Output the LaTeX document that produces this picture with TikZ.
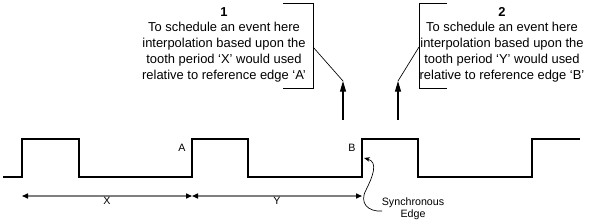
\documentclass[tikz,border=0pt]{standalone}
\usepackage{fontspec}
\setmainfont{Liberation Sans}
\usetikzlibrary{arrows.meta, calc, positioning}

\begin{document}
\begin{tikzpicture}[
  x=0.75pt, y=-0.75pt,
  wave/.style={line width=1.3pt, line join=miter},
  dim/.style={{Triangle[length=4.5pt, width=3.8pt, color=black]}-{Triangle[length=4.5pt, width=3.8pt, color=black]},
              line width=1pt, gray},
  note/.style={align=center, inner sep=0pt, font=\fontsize{9.7}{11.8}\selectfont},
  brk/.style={line width=0.6pt},
  lead/.style={line width=0.5pt},
  uparr/.style={-{Triangle[length=8pt, width=4.5pt]}, line width=0.8pt},
  lbl/.style={inner sep=0pt, font=\fontsize{8}{9}\selectfont},
  syncarr/.style={-{Stealth[length=4.5pt, width=3.5pt]}, line width=0.5pt},
]
  \useasboundingbox (0,0) rectangle (598,224);

  %% ── Waveform ──
  \coordinate (r1) at (22,177);
  \coordinate (rA) at (192,177);
  \coordinate (rB) at (362,177);
  \draw[wave] (3,177) -- (r1) -- ++(0,-38) -- (79,139) -- (79,177)
    -- (rA) -- ++(0,-38) -- (248,139) -- (248,177)
    -- (rB) -- ++(0,-38) -- (418,139) -- (418,177)
    -- (532,177) -- (532,139) -- (580,139);

  \node[lbl] (labA) at (182,148) {A};
  \node[lbl] (labB) at (352,148) {B};

  %% ── Tooth periods ──
  \coordinate (dX0) at (22,196);
  \coordinate (dX1) at (192,196);
  \coordinate (dY1) at (362,196);
  \draw[dim] (dX0) -- (dX1);
  \draw[dim] (dX1) -- (dY1);
  \node[lbl, anchor=north] (labX) at ($(dX0)!0.5!(dX1)+(0,1)$) {X};
  \node[lbl, anchor=north] (labY) at ($(dX1)!0.5!(dY1)+(0,1)$) {Y};

  %% ══════════════════════════════════════
  %% Callout 1
  \node[note] (note1) at (224,44.5)
    {\textbf{1}\\To schedule an event here\\interpolation based upon the\\
     tooth period ‘X’ would used\\relative to reference edge ‘A’};
  \draw[brk] (283,3) -- (313,3) -- (313,88) -- (283,88);
  \coordinate (b1) at (313,47);
  \coordinate (t1) at (343,81);
  \coordinate (s1) at (343,120);
  \draw[lead] (b1) -- (t1);
  \draw[uparr] (s1) -- (t1);

  %% Callout 2
  \node[note] (note2) at (502,44.5)
    {\textbf{2}\\To schedule an event here\\interpolation based upon the\\
     tooth period ‘Y’ would used\\relative to reference edge ‘B’};
  \draw[brk] (447,3) -- (419,3) -- (419,88) -- (447,88);
  \coordinate (b2) at (419,47);
  \coordinate (t2) at (398,81);
  \coordinate (s2) at (398,120);
  \draw[lead] (b2) -- (t2);
  \draw[uparr] (s2) -- (t2);

  %% ── Synchronous edge ──
  \node[lbl, align=center] (sync) at (413,209) {Synchronous\\Edge};
  \coordinate (syncs) at (382,211);
  \coordinate (synce) at (364,158);
  \draw[syncarr] (syncs) .. controls (368,212) and (359,203) .. (366,190)
    .. controls (372,178) and (379,162) .. (synce);
\end{tikzpicture}
\end{document}
